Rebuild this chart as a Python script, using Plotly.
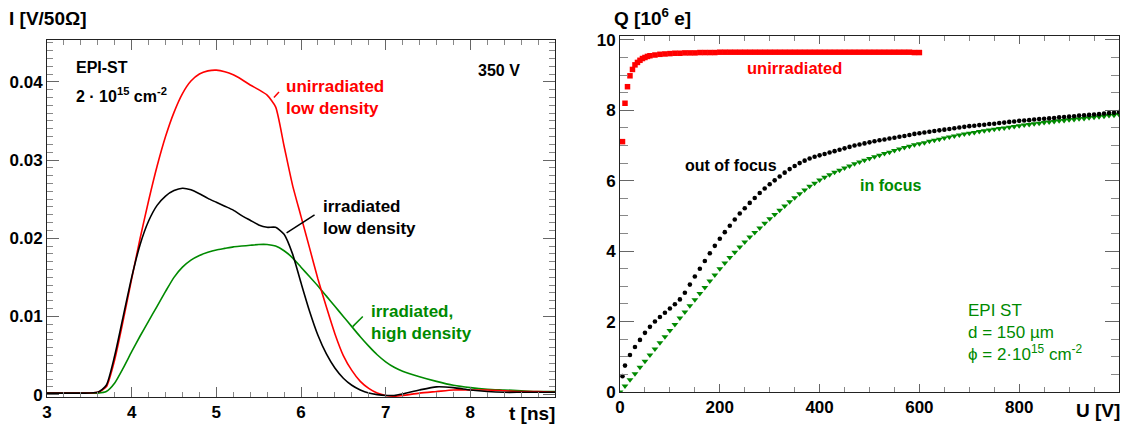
import plotly.graph_objects as go

W, H = 1134, 427

# ---------------- left panel data: current pulses ----------------
t_ns = [3.0, 3.2, 3.4, 3.6, 3.7, 3.8, 3.9, 4.0, 4.1, 4.2, 4.3, 4.4, 4.5, 4.6, 4.7, 4.8, 4.9,
        5.0, 5.1, 5.2, 5.3, 5.4, 5.5, 5.6, 5.7, 5.8, 5.9, 6.0, 6.1, 6.2, 6.3, 6.4, 6.5, 6.6,
        6.7, 6.8, 6.9, 7.0, 7.1, 7.2, 7.4, 7.6, 7.8, 8.0, 8.2, 8.4, 8.6, 8.8, 9.0]

I_unirr_low = [0.0002, 0.0002, 0.0002, 0.0003, 0.0010, 0.0045, 0.0095, 0.0148, 0.0200, 0.0248,
               0.0292, 0.0330, 0.0361, 0.0385, 0.0401, 0.0410, 0.0414, 0.0415, 0.0413, 0.0409,
               0.0403, 0.0396, 0.0390, 0.0383, 0.0368, 0.0318, 0.0268, 0.0228, 0.0188, 0.0148,
               0.0112, 0.0078, 0.0050, 0.0031, 0.0017, 0.0008, 0.0002, -0.0001, -0.0002, -0.0001,
               0.0002, 0.0004, 0.0006, 0.0006, 0.0006, 0.0005, 0.0004, 0.0004, 0.0003]

I_irr_low = [0.0002, 0.0002, 0.0002, 0.0003, 0.0012, 0.0050, 0.0100, 0.0150, 0.0192, 0.0222,
             0.0242, 0.0254, 0.0261, 0.0264, 0.0262, 0.0257, 0.0251, 0.0246, 0.0241, 0.0236,
             0.0229, 0.0223, 0.0217, 0.0214, 0.0214, 0.0205, 0.0180, 0.0143, 0.0107, 0.0076,
             0.0052, 0.0034, 0.0021, 0.0012, 0.0006, 0.0002, 0.0000, -0.0001, -0.0001, 0.0001,
             0.0006, 0.0010, 0.0009, 0.0006, 0.0004, 0.0003, 0.0003, 0.0003, 0.0003]

I_irr_high = [0.0002, 0.0002, 0.0002, 0.0002, 0.0004, 0.0015, 0.0034, 0.0055, 0.0075, 0.0094,
              0.0113, 0.0132, 0.0150, 0.0163, 0.0172, 0.0178, 0.0182, 0.0185, 0.0187, 0.0189,
              0.0190, 0.0191, 0.0192, 0.0192, 0.0190, 0.0184, 0.0175, 0.0163, 0.0151, 0.0139,
              0.0126, 0.0113, 0.0100, 0.0087, 0.0074, 0.0062, 0.0051, 0.0042, 0.0035, 0.0030,
              0.0023, 0.0017, 0.0012, 0.0009, 0.0007, 0.0006, 0.0005, 0.0004, 0.0004]

t_ticks = [3, 4, 5, 6, 7, 8]
I_ticks = [0, 0.01, 0.02, 0.03, 0.04]
I_tick_labels = ["0", "0.01", "0.02", "0.03", "0.04"]

# ---------------- right panel data: collected charge vs voltage ----------------
U_unirr = [5, 10, 15, 20, 25, 30, 35, 40, 45, 50, 55, 60, 70, 80, 90, 100, 110, 120, 130, 140,
           150, 160, 170, 180, 190, 200, 210, 220, 230, 240, 250, 260, 270, 280, 290, 300, 310,
           320, 330, 340, 350, 360, 370, 380, 390, 400, 410, 420, 430, 440, 450, 460, 470, 480,
           490, 500, 510, 520, 530, 540, 550, 560, 570, 580, 590, 600]
Q_unirr = [7.11, 8.20, 8.67, 8.98, 9.16, 9.29, 9.36, 9.42, 9.47, 9.50, 9.53, 9.55, 9.57, 9.59,
           9.60, 9.61, 9.62, 9.62, 9.63, 9.63, 9.63, 9.64, 9.64, 9.64, 9.64, 9.65, 9.65, 9.65,
           9.65, 9.65, 9.65, 9.65, 9.65, 9.65, 9.65, 9.65, 9.65, 9.65, 9.65, 9.65, 9.65, 9.65,
           9.65, 9.65, 9.65, 9.65, 9.65, 9.65, 9.65, 9.65, 9.65, 9.65, 9.65, 9.65, 9.65, 9.65,
           9.65, 9.65, 9.65, 9.65, 9.65, 9.65, 9.65, 9.65, 9.64, 9.64]

U_out = [5, 10, 20, 30, 40, 50, 60, 70, 80, 90, 100, 110, 120, 130, 140, 150, 160, 170, 180, 190,
         200, 210, 220, 230, 240, 250, 260, 270, 280, 290, 300, 310, 320, 330, 340, 350, 360, 370,
         380, 390, 400, 410, 420, 430, 440, 450, 460, 470, 480, 490, 500, 510, 520, 530, 540, 550,
         560, 570, 580, 590, 600, 610, 620, 630, 640, 650, 660, 670, 680, 690, 700, 710, 720, 730,
         740, 750, 760, 770, 780, 790, 800, 810, 820, 830, 840, 850, 860, 870, 880, 890, 900, 910,
         920, 930, 940, 950, 960, 970, 980, 990, 1000]
Q_out = [0.45, 0.75, 1.05, 1.28, 1.48, 1.68, 1.85, 2.00, 2.13, 2.25, 2.37, 2.49, 2.63, 2.82, 3.05,
         3.28, 3.50, 3.72, 3.94, 4.15, 4.35, 4.54, 4.72, 4.90, 5.07, 5.22, 5.37, 5.51, 5.65, 5.78,
         5.90, 6.01, 6.12, 6.23, 6.33, 6.42, 6.50, 6.57, 6.63, 6.68, 6.72, 6.76, 6.80, 6.84, 6.88,
         6.92, 6.96, 7.00, 7.03, 7.06, 7.09, 7.12, 7.15, 7.17, 7.20, 7.22, 7.25, 7.27, 7.30, 7.33,
         7.35, 7.37, 7.39, 7.41, 7.43, 7.45, 7.47, 7.49, 7.51, 7.53, 7.55, 7.56, 7.58, 7.59, 7.61,
         7.62, 7.64, 7.65, 7.67, 7.68, 7.70, 7.71, 7.72, 7.74, 7.75, 7.76, 7.77, 7.78, 7.80, 7.81,
         7.82, 7.83, 7.85, 7.86, 7.87, 7.88, 7.89, 7.91, 7.92, 7.93, 7.95]

U_in = [0, 10, 20, 30, 40, 50, 60, 70, 80, 90, 100, 110, 120, 130, 140, 150, 160, 170, 180, 190,
        200, 210, 220, 230, 240, 250, 260, 270, 280, 290, 300, 310, 320, 330, 340, 350, 360, 370,
        380, 390, 400, 410, 420, 430, 440, 450, 460, 470, 480, 490, 500, 510, 520, 530, 540, 550,
        560, 570, 580, 590, 600, 610, 620, 630, 640, 650, 660, 670, 680, 690, 700, 710, 720, 730,
        740, 750, 760, 770, 780, 790, 800, 810, 820, 830, 840, 850, 860, 870, 880, 890, 900, 910,
        920, 930, 940, 950, 960, 970, 980, 990, 1000]
Q_in = [0.00, 0.17, 0.35, 0.52, 0.70, 0.87, 1.05, 1.22, 1.40, 1.57, 1.75, 1.92, 2.10, 2.27, 2.45,
        2.62, 2.80, 2.97, 3.15, 3.32, 3.50, 3.66, 3.82, 3.97, 4.12, 4.26, 4.40, 4.53, 4.66, 4.79,
        4.92, 5.04, 5.16, 5.28, 5.40, 5.52, 5.63, 5.74, 5.84, 5.93, 6.02, 6.10, 6.17, 6.24, 6.30,
        6.36, 6.42, 6.48, 6.53, 6.58, 6.63, 6.68, 6.72, 6.77, 6.81, 6.86, 6.90, 6.94, 6.98, 7.02,
        7.05, 7.08, 7.12, 7.15, 7.18, 7.21, 7.24, 7.27, 7.30, 7.33, 7.35, 7.37, 7.40, 7.42, 7.44,
        7.46, 7.48, 7.50, 7.52, 7.54, 7.56, 7.58, 7.60, 7.62, 7.63, 7.65, 7.67, 7.68, 7.70, 7.71,
        7.73, 7.74, 7.76, 7.77, 7.79, 7.80, 7.82, 7.83, 7.85, 7.86, 7.88]

U_ticks = [0, 200, 400, 600, 800]
Q_ticks = [0, 2, 4, 6, 8, 10]

RED = "#ff0000"
BLACK = "#000000"
GREEN = "#008a00"
FONT = "Liberation Sans, Arial, sans-serif"


def px(x):
    return x / W


def py(y):
    return 1 - y / H


fig = go.Figure()

# left panel curves
for y, c in [(I_irr_high, GREEN), (I_unirr_low, RED), (I_irr_low, BLACK)]:
    fig.add_trace(go.Scatter(x=t_ns, y=y, mode="lines", xaxis="x", yaxis="y",
                             line=dict(color=c, width=1.6, shape="spline", smoothing=0.6),
                             showlegend=False, hoverinfo="skip"))

# right panel markers
fig.add_trace(go.Scatter(x=U_in, y=Q_in, mode="markers", xaxis="x2", yaxis="y2",
                         marker=dict(symbol="triangle-down", size=6, color=GREEN),
                         showlegend=False, hoverinfo="skip"))
fig.add_trace(go.Scatter(x=U_out, y=Q_out, mode="markers", xaxis="x2", yaxis="y2",
                         marker=dict(symbol="circle", size=4.6, color=BLACK),
                         showlegend=False, hoverinfo="skip"))
fig.add_trace(go.Scatter(x=U_unirr, y=Q_unirr, mode="markers", xaxis="x2", yaxis="y2",
                         marker=dict(symbol="square", size=5.5, color=RED),
                         showlegend=False, hoverinfo="skip"))

tickfont = dict(family=FONT, size=17, color="black", weight="bold")


def ax(domain, rng, tickvals, ticktext, minor_dtick, anchor, ticklen, minorlen):
    return dict(domain=domain, range=rng, tickmode="array", tickvals=tickvals,
                ticktext=ticktext, anchor=anchor, automargin=False,
                showgrid=False, zeroline=False, showline=True, linecolor="#222",
                linewidth=1, mirror="allticks", ticks="inside", ticklen=ticklen,
                tickcolor="#666", tickwidth=1, tickfont=tickfont,
                minor=dict(tick0=0, dtick=minor_dtick, ticks="inside", ticklen=minorlen,
                           tickcolor="#888", tickwidth=1, showgrid=False))


fig.update_layout(
    width=W, height=H, margin=dict(l=0, r=0, t=0, b=0, autoexpand=False),
    paper_bgcolor="white", plot_bgcolor="white",
    xaxis=ax([px(47), px(555)], [3, 9], t_ticks, [str(v) for v in t_ticks], 0.2, "y", 10, 5),
    yaxis=ax([py(397), py(40)], [-0.0003, 0.04535], I_ticks, I_tick_labels, 0.001, "x", 12, 6),
    xaxis2=ax([px(620), px(1119)], [0, 1000], U_ticks, [str(v) for v in U_ticks], 50, "y2", 8, 5),
    yaxis2=ax([py(392), py(36)], [0, 10.11], Q_ticks, [str(v) for v in Q_ticks], 0.5, "x2", 14, 8),
)


def note(x, y, text, color="black", size=16, xanchor="left", weight="bold"):
    fig.add_annotation(x=px(x), y=py(y), xref="paper", yref="paper", text=text,
                       showarrow=False, xanchor=xanchor, yanchor="middle", align="left",
                       font=dict(family=FONT, size=size, color=color, weight=weight))


# axis titles
note(7, 18, "I [V/50Ω]", size=19)
note(557, 413, "t [ns]", size=19, xanchor="right")
note(612, 17, "Q [10<sup>6</sup> e]", size=19)
note(1122, 410, "U [V]", size=19, xanchor="right")

# left annotations
note(74, 68, "EPI-ST", size=16)
note(74, 95, "2 · 10<sup>15</sup> cm<sup>-2</sup>", size=16)
note(522, 71, "350 V", size=16, xanchor="right")
note(284, 97, "unirradiated<br>low density", color=RED, size=17)
note(321, 217, "irradiated<br>low density", color=BLACK, size=17)
note(369, 322, "irradiated,<br>high density", color=GREEN, size=17)

# right annotations
note(745, 68, "unirradiated", color=RED, size=16.5)
note(683, 165, "out of focus", color=BLACK, size=16)
note(858, 185, "in focus", color=GREEN, size=16)
note(966, 332, "EPI ST<br>d = 150 µm<br>ϕ = 2·10<sup>15</sup> cm<sup>-2</sup>", color=GREEN,
     size=17, weight="normal")

# pointer lines in data coordinates of the left panel
for (x0, y0, x1, y1, c) in [(5.68, 0.0380, 5.74, 0.0387, RED),
                            (5.83, 0.0207, 6.16, 0.0230, BLACK),
                            (6.61, 0.0087, 6.73, 0.0100, GREEN)]:
    fig.add_shape(type="line", xref="x", yref="y", x0=x0, y0=y0, x1=x1, y1=y1,
                  line=dict(color=c, width=1.5))

fig.write_html("out.html")
